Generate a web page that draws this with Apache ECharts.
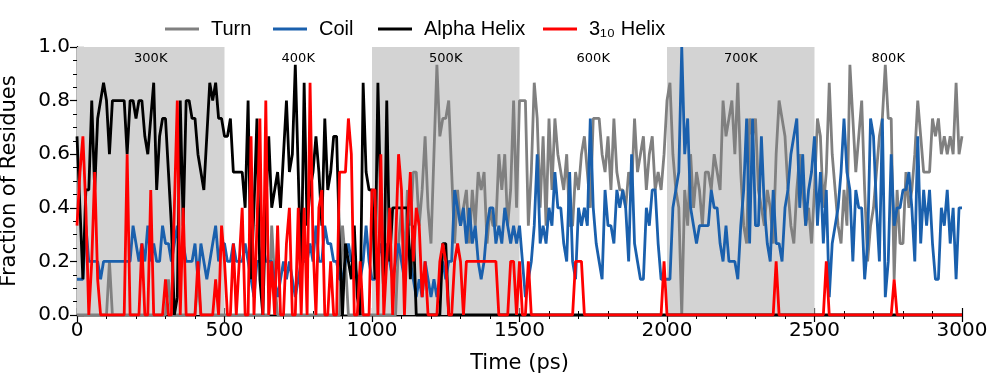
<!DOCTYPE html>
<html>
<head>
<meta charset="utf-8">
<script src="https://cdn.jsdelivr.net/npm/echarts@6.0.0/dist/echarts.min.js"></script>
<style>
html, body { margin: 0; padding: 0; background: #fff; }
#main { width: 997px; height: 378px; }
</style>
</head>
<body>
<div id="main"></div>
<script>
// 每 10 ps 一个点，数值是 15 个残基中处于该构象的个数
var step = 10;
var nResidues = 15;

var turnCounts = [
    0,0,0,0,0,0,0,0,0,0,   0,3,0,0,0,0,0,0,0,0,   0,0,0,0,0,0,0,0,0,0,
    0,2,0,0,0,0,0,0,0,0,   0,2,0,0,0,0,0,0,0,0,
    0,0,0,0,0,0,0,0,0,0,   0,0,0,0,0,0,5,2,0,0,   0,0,0,0,0,0,0,0,0,0,
    0,0,0,0,0,0,0,0,0,0,   5,3,0,0,0,0,0,0,0,0,
    0,0,0,0,0,0,0,0,0,4,   6,3,7,5,8,8,5,7,10,6,  4,9,14,10,11,11,12,8,4,7,
    5,6,7,4,7,5,8,7,8,4,   6,5,5,9,7,9,5,7,12,6,
    12,12,12,5,8,13,11,6,10,5,  11,7,11,9,8,7,9,5,5,8,  7,9,10,8,6,11,11,11,9,8,
    10,7,11,8,7,7,6,8,7,11,     8,9,10,7,9,10,7,8,7,9,
    12,13,9,7,6,0,7,5,9,6,  8,7,5,8,8,7,9,8,7,12,  10,11,12,9,13,8,5,4,11,10,
    11,7,6,5,7,6,4,9,12,11, 10,7,5,4,7,9,7,5,6,4,
    7,11,10,6,8,13,9,7,5,4,  7,5,14,11,8,10,12,7,3,5,  6,8,10,11,14,11,11,2,7,4,
    4,8,6,7,9,12,10,8,8,8,   11,10,11,9,10,9,10,9,13,9,
    10
];

var coilCounts = [
    2,2,2,5,3,3,3,3,2,3,  3,3,3,3,3,3,3,3,3,5,  4,3,4,3,5,3,4,3,3,5,
    4,4,3,4,5,3,4,3,3,3,  4,2,4,3,2,3,4,5,3,4,
    4,3,3,4,3,3,3,4,3,2,  1,3,3,4,3,3,3,2,1,2,  3,2,3,2,1,2,3,3,3,4,
    3,5,3,3,5,4,4,3,3,2,  2,3,4,3,3,2,2,3,5,3,
    2,2,3,4,3,4,3,2,3,4,  3,2,4,3,2,1,2,1,3,2,  1,2,1,2,3,2,3,3,7,6,
    5,6,4,6,4,5,3,2,3,5,  6,6,4,5,4,6,5,4,5,4,
    5,3,1,2,3,5,9,4,5,4,  6,5,8,6,6,4,3,8,3,2,  6,5,6,5,11,6,4,3,2,7,
    5,5,4,7,6,7,6,3,9,4,  3,2,2,6,5,7,7,4,2,2,
    2,2,6,7,8,15,9,11,6,5,  4,5,5,5,5,7,6,6,4,3,  5,3,3,3,2,5,7,11,4,11,
    5,5,10,6,4,3,7,4,4,3,   6,7,9,10,11,6,9,5,7,8,
    10,5,8,4,7,1,4,5,6,8,  11,8,7,3,7,6,6,2,4,11,  10,6,3,11,1,3,9,5,6,6,
    7,7,8,6,3,10,4,7,5,7,  4,2,2,6,5,7,4,6,2,6,
    6
];

var alphaCounts = [
    10,6,2,7,7,12,7,11,12,13,  12,9,12,12,12,12,12,9,12,12,  11,12,12,10,9,11,13,7,10,11,
    11,8,5,0,1,12,5,12,12,11,  11,9,8,7,10,13,12,13,11,11,
    10,10,11,8,8,8,8,6,12,2,   6,11,2,0,6,10,6,7,8,6,   9,12,8,9,14,8,2,13,5,7,
    8,10,8,5,11,7,8,10,10,4,   0,4,3,2,5,1,0,13,8,7,
    7,2,13,6,1,12,3,6,6,6,  6,6,6,2,5,0,0,0,0,0,  0,0,0,0,4,4,0,0,0,0,
    0,0,0,0,0,0,0,0,0,0,    0,0,0,0,0,0,0,0,0,0,
    0,0,0,0,0,0,0,0,0,0,  0,0,0,0,0,0,0,0,0,0,  0,0,0,0,0,0,0,0,0,0,
    0,0,0,0,0,0,0,0,0,0,  0,0,0,0,0,0,0,0,0,0,
    0,0,0,0,0,0,0,0,0,0,  0,0,0,0,0,0,0,0,0,0,  0,0,0,0,0,0,0,0,0,0,
    0,0,0,0,0,0,0,0,0,0,  0,0,0,0,0,0,0,0,0,0,
    0,0,0,0,0,0,0,0,0,0,  0,0,0,0,0,0,0,0,0,0,  0,0,0,0,0,0,0,0,0,0,
    0,0,0,0,0,0,0,0,0,0,  0,0,0,0,0,0,0,0,0,0,
    0
];

var helix310Counts = [
    5,8,10,6,0,3,8,2,0,0,  0,0,0,0,0,0,0,9,0,0,  0,0,4,0,0,7,0,0,0,0,
    2,0,0,6,12,0,6,0,0,0,  0,3,0,0,0,0,0,2,0,5,
    3,0,0,4,0,3,6,0,0,10,  0,5,11,0,12,0,3,0,5,0,  0,4,6,0,0,6,0,6,0,13,
    4,0,6,7,0,0,3,0,0,8,   8,8,11,9,0,0,3,0,0,0,
    7,7,0,9,0,3,6,0,4,9,  7,0,5,8,3,6,5,1,3,0,  0,0,0,3,4,3,0,0,3,4,
    3,0,3,3,3,3,3,3,3,3,  3,3,3,0,0,0,0,3,3,0,
    3,0,0,3,0,0,0,0,0,0,  0,0,0,0,0,0,0,0,0,3,  3,3,0,0,0,0,0,0,0,0,
    0,0,0,0,0,0,0,0,0,0,  0,0,0,0,0,0,0,0,0,3,
    0,0,0,0,0,0,0,0,0,0,  0,0,0,0,0,0,0,0,0,0,  0,0,0,0,0,0,0,0,0,0,
    0,0,0,0,0,0,0,3,0,0,  0,0,0,0,0,0,0,0,0,0,
    0,0,0,0,3,0,0,0,0,0,  0,0,0,0,0,0,0,0,0,0,  0,0,0,0,0,0,0,2,0,0,
    0,0,0,0,0,0,0,0,0,0,  0,0,0,0,0,0,0,0,0,0,
    0
];

// 温度分段
var bandEdges = [0, 500, 1000, 1500, 2000, 2500, 3000];
var bandLabels = ['300K', '400K', '500K', '600K', '700K', '800K'];
var bandShaded = [true, false, true, false, true, false];

var seriesNames = ['Turn', 'Coil', 'Alpha Helix', '3₁₀ Helix'];
var seriesColors = ['#808080', '#1a60ad', '#000000', '#ff0000'];
var legendLeft = [160, 268, 373, 538];

function toPoints(counts) {
    return counts.map(function (c, i) {
        return [i * step, c / nResidues];
    });
}

var bands = [];
for (var b = 0; b < bandLabels.length; b++) {
    bands.push([
        {
            name: bandLabels[b],
            xAxis: bandEdges[b],
            itemStyle: { color: bandShaded[b] ? '#d3d3d3' : 'rgba(0,0,0,0)' }
        },
        { xAxis: bandEdges[b + 1] }
    ]);
}

var allCounts = [turnCounts, coilCounts, alphaCounts, helix310Counts];
var series = allCounts.map(function (counts, k) {
    var s = {
        name: seriesNames[k],
        type: 'line',
        symbol: 'none',
        data: toPoints(counts),
        lineStyle: { width: 2.8, color: seriesColors[k] },
        itemStyle: { color: seriesColors[k] },
        z: 2 + k
    };
    if (k === 0) {
        s.markArea = {
            silent: true,
            z: 1,
            label: {
                position: 'insideTop',
                distance: 5,
                color: '#000',
                fontSize: 13,
                fontFamily: 'DejaVu Sans'
            },
            data: bands
        };
    }
    return s;
});

// 每个图例单独放，便于对齐
var legends = seriesNames.map(function (name, k) {
    return {
        left: legendLeft[k],
        top: 14,
        icon: 'rect',
        itemWidth: 34,
        itemHeight: 3,
        textStyle: {
            color: '#000',
            fontSize: 20,
            fontFamily: 'Liberation Sans',
            padding: [0, 0, 0, 7]
        },
        data: [name]
    };
});

var tickFont = { color: '#000', fontSize: 20, fontFamily: 'DejaVu Sans' };
var axisLine = { show: true, lineStyle: { color: '#000', width: 1.3 } };
var majorTick = { show: true, inside: true, length: 7, lineStyle: { color: '#000', width: 1.2 } };
var minorLine = { color: '#000', width: 1 };

var myChart = echarts.init(document.getElementById('main'));

var option = {
    animation: false,
    backgroundColor: '#fff',
    legend: legends,
    grid: { left: 77, right: 35, top: 47, bottom: 63, containLabel: false, outerBoundsMode: 'none' },
    xAxis: [
        {
            type: 'value', min: 0, max: 3000, interval: 500,
            name: 'Time (ps)', nameLocation: 'middle', nameGap: 38,
            nameTextStyle: { color: '#000', fontSize: 21, fontFamily: 'DejaVu Sans' },
            axisLine: axisLine, axisTick: majorTick,
            minorTick: { show: true, splitNumber: 5, length: 4, lineStyle: minorLine },
            axisLabel: Object.assign({ margin: 6, formatter: function (v) { return String(v); } }, tickFont),
            splitLine: { show: false }
        },
        {
            type: 'value', position: 'top', min: 0, max: 3000, interval: 500,
            axisLine: axisLine, axisTick: majorTick,
            minorTick: { show: true, splitNumber: 5, length: 4, lineStyle: minorLine },
            axisLabel: { show: false },
            splitLine: { show: false }
        }
    ],
    yAxis: [
        {
            type: 'value', min: 0, max: 1, interval: 0.2,
            name: 'Fraction of Residues', nameLocation: 'middle', nameGap: 57,
            nameTextStyle: { color: '#000', fontSize: 21, fontFamily: 'DejaVu Sans' },
            axisLine: axisLine, axisTick: majorTick,
            minorTick: { show: true, splitNumber: 4, length: 4, lineStyle: minorLine },
            axisLabel: Object.assign({ margin: 7, formatter: function (v) { return v.toFixed(1); } }, tickFont),
            splitLine: { show: false }
        },
        {
            type: 'value', position: 'right', min: 0, max: 1, interval: 0.2,
            axisLine: axisLine, axisTick: majorTick,
            minorTick: { show: true, splitNumber: 4, length: 4, lineStyle: minorLine },
            axisLabel: { show: false },
            splitLine: { show: false }
        }
    ],
    series: series
};

myChart.setOption(option);
</script>
</body>
</html>
